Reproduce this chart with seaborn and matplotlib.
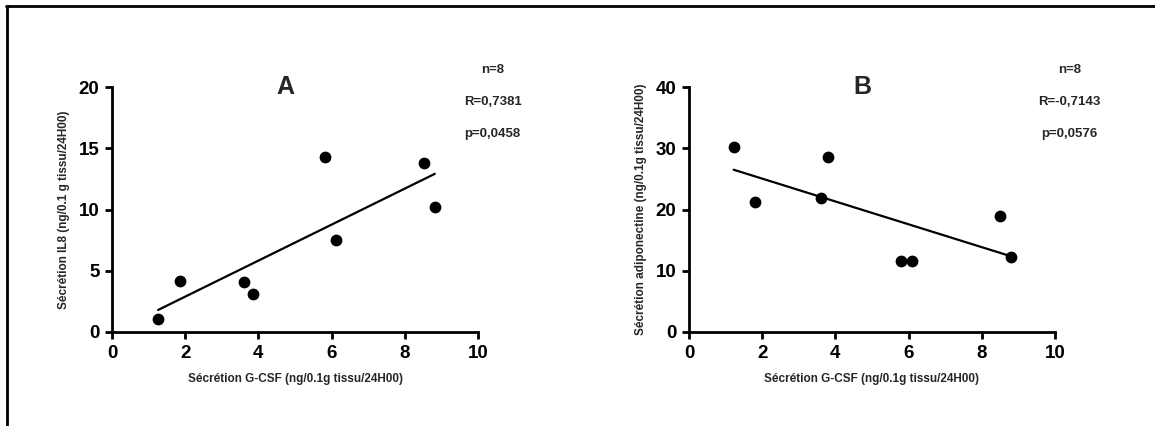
import matplotlib
matplotlib.use("Agg")
import matplotlib.pyplot as plt
import seaborn as sns
import pandas as pd
from matplotlib.lines import Line2D

# values
gcsf_a = [1.26, 1.85, 3.62, 3.84, 5.83, 6.13, 8.52, 8.82]
il8 = [1.1, 4.16, 4.05, 3.07, 14.3, 7.5, 13.8, 10.2]

gcsf_b = [1.22, 1.80, 3.60, 3.80, 5.80, 6.09, 8.50, 8.80]
adipo = [30.2, 21.3, 21.9, 28.6, 11.6, 11.6, 18.9, 12.2]

x_label = "Sécrétion G-CSF (ng/0.1g tissu/24H00)"
y_labels = ["Sécrétion IL8 (ng/0.1 g tissu/24H00)",
            "Sécrétion adiponectine (ng/0.1g tissu/24H00)"]
letters = ["A", "B"]
stats = [["n=8", "R=0,7381", "p=0,0458"],
         ["n=8", "R=-0,7143", "p=0,0576"]]
y_max = [20, 40]
y_ticks = [[0, 5, 10, 15, 20], [0, 10, 20, 30, 40]]
x_ticks = [0, 2, 4, 6, 8, 10]

sns.set_style("ticks")
plt.rcParams["font.family"] = ["Liberation Sans", "DejaVu Sans"]
plt.rcParams["font.weight"] = "bold"

df_a = pd.DataFrame({"x": gcsf_a, "y": il8})
df_b = pd.DataFrame({"x": gcsf_b, "y": adipo})

fig = plt.figure(figsize=(11.55, 4.26), dpi=100)
W, H = 1155, 426
# axes boxes in pixels: left, bottom(from top), width, height
boxes = [(112, 332, 366, 245), (689, 332, 366, 245)]

for i, df in enumerate([df_a, df_b]):
    l, b, w, h = boxes[i]
    ax = fig.add_axes([l / W, 1 - b / H, w / W, h / H])
    sns.regplot(data=df, x="x", y="y", ax=ax, ci=None, color="black",
                scatter_kws={"s": 72, "linewidths": 0, "alpha": 1},
                line_kws={"linewidth": 1.6})
    ax.set_xlim(0, 10)
    ax.set_ylim(0, y_max[i])
    ax.set_xticks(x_ticks)
    ax.set_yticks(y_ticks[i])
    ax.tick_params(width=2, length=5, labelsize=13.5, pad=4, colors="black")
    for t in ax.get_xticklabels() + ax.get_yticklabels():
        t.set_fontweight("bold")
    for side in ["left", "bottom"]:
        ax.spines[side].set_linewidth(2)
        ax.spines[side].set_color("black")
    sns.despine(ax=ax)
    ax.set_xlabel(x_label, fontsize=8.5, fontweight="bold", labelpad=8)
    ax.set_ylabel(y_labels[i], fontsize=8.5, fontweight="bold", labelpad=6)
    ax.text(0.475, 1.0, letters[i], transform=ax.transAxes, ha="center",
            va="center", fontsize=18, fontweight="bold")
    for j, s in enumerate(stats[i]):
        ax.text(1.04, 1.07 - 0.13 * j, s, transform=ax.transAxes,
                ha="center", va="center", fontsize=9.5, fontweight="bold")

# frame lines at top and left of the figure
fig.add_artist(Line2D([6 / W, 1], [1 - 6 / H, 1 - 6 / H], color="black", linewidth=2))
fig.add_artist(Line2D([7 / W, 7 / W], [0, 1 - 6 / H], color="black", linewidth=2))

fig.savefig("out.png", dpi=100, facecolor="white")
